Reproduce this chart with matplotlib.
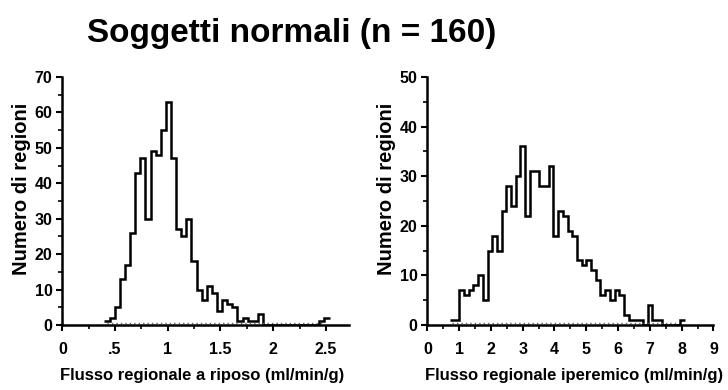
import numpy as np
import matplotlib
matplotlib.use("Agg")
import matplotlib.pyplot as plt

plt.rcParams['font.family'] = ['Liberation Sans', 'DejaVu Sans']

title = "Soggetti normali (n = 160)"

# Left histogram: resting regional flow
rest_start = 0.40
rest_width = 0.0485
rest_counts = [1, 2, 5, 13, 17, 26, 43, 47, 30, 49, 48, 55, 63, 47, 27, 25, 30, 18,
               10, 7, 11, 9, 4, 7, 6, 5, 1, 2, 1, 1, 3,
               0, 0, 0, 0, 0, 0, 0, 0, 0, 0, 0, 1, 2]
rest_xlabel = "Flusso regionale a riposo (ml/min/g)"
rest_xticks = [0, 0.5, 1, 1.5, 2, 2.5]
rest_xticklabels = ["0", ".5", "1", "1.5", "2", "2.5"]
rest_yticks = [0, 10, 20, 30, 40, 50, 60, 70]

# Right histogram: hyperemic regional flow
hyp_start = 0.71
hyp_width = 0.148
hyp_counts = [1, 1, 7, 6, 7, 8, 10, 5, 15, 18, 15, 23, 28, 24, 30, 36, 22, 31, 31, 28,
              28, 32, 18, 23, 22, 19, 18, 13, 12, 13, 11, 9, 6, 7, 5, 7, 6, 2,
              1, 1, 1, 0, 4, 1, 1, 0, 0, 0, 0, 1]
hyp_xlabel = "Flusso regionale iperemico (ml/min/g)"
hyp_xticks = [0, 1, 2, 3, 4, 5, 6, 7, 8, 9]
hyp_yticks = [0, 10, 20, 30, 40, 50]

ylabel = "Numero di regioni"

fig = plt.figure(figsize=(7.28, 3.90), dpi=100)
fig.text(0.40, 0.915, title, ha='center', va='center', fontsize=24, fontweight='bold')


def draw(ax, start, width, counts, xmax, ymax, xticks, xticklabels, xminor, yticks, yminor, xlabel, xlabel_x):
    counts = np.asarray(counts, dtype=float)
    edges = start + width * np.arange(len(counts) + 1)
    ax.stairs(counts, edges, color='black', linewidth=1.8, baseline=None)
    # dotted baseline under main group of bins
    nz = np.nonzero(counts)[0]
    ax.hlines(0.6 * ymax / 70, edges[nz[0]] + width * 0.5, edges[nz[-1]] - width * 0.5,
              colors='0.4', linestyles=(0, (1, 2.2)), linewidth=1.0)
    ax.set_xlim(0, xmax)
    ax.set_ylim(0, ymax)
    ax.spines['top'].set_visible(False)
    ax.spines['right'].set_visible(False)
    ax.spines['left'].set_linewidth(1.8)
    ax.spines['bottom'].set_linewidth(1.8)
    ax.set_xticks(xticks)
    ax.set_xticklabels(xticklabels if xticklabels else [str(t) for t in xticks])
    ax.set_xticks(xminor, minor=True)
    ax.set_yticks(yticks)
    ax.set_yticks(yminor, minor=True)
    ax.tick_params(which='major', direction='out', length=4, width=1.5, labelsize=11.5, pad=8)
    ax.tick_params(which='minor', direction='out', length=3, width=1.2)
    ax.tick_params(axis='y', pad=3)
    for lab in ax.get_xticklabels() + ax.get_yticklabels():
        lab.set_fontweight('bold')
    ax.set_xlabel(xlabel, fontsize=12, fontweight='bold')
    ax.xaxis.set_label_coords(xlabel_x, -0.175)
    ax.set_ylabel(ylabel, fontsize=14.5, fontweight='bold')
    ax.yaxis.set_label_coords(-0.11, 0.55)
    ax.patch.set_alpha(0)


ax1 = fig.add_axes([0.0856, 0.1667, 0.394, 0.636])
draw(ax1, rest_start, rest_width, rest_counts, 2.72, 70,
     rest_xticks, rest_xticklabels, np.arange(0, 2.75, 0.25),
     rest_yticks, np.arange(0, 71, 5), rest_xlabel, 0.486)

ax2 = fig.add_axes([0.587, 0.1667, 0.393, 0.636])
draw(ax2, hyp_start, hyp_width, hyp_counts, 9, 50,
     hyp_xticks, None, np.arange(0, 9.01, 0.5),
     hyp_yticks, np.arange(0, 51, 5), hyp_xlabel, 0.514)

fig.savefig("out.png", dpi=100)
